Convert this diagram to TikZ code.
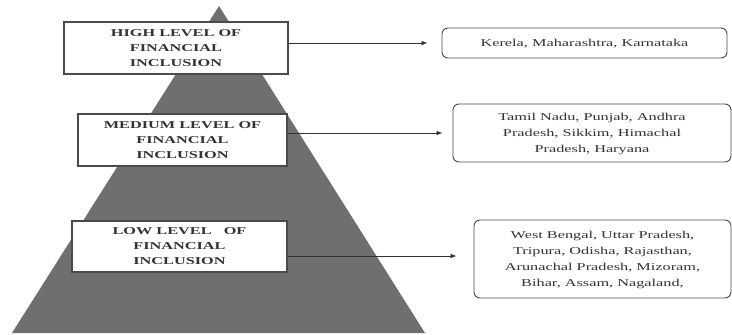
\documentclass[tikz,border=0pt]{standalone}
\usepackage{fontspec}
\usepackage{graphicx}
\setmainfont{Liberation Serif}
\usetikzlibrary{arrows.meta}
\definecolor{pyr}{HTML}{6E6F71}
\definecolor{edge}{HTML}{4A4A4A}
\newcommand{\widetext}[1]{\scalebox{1.55}[1]{\begin{tabular}{@{}c@{}}#1\end{tabular}}}
\tikzset{
  levelbox/.style={draw=edge, line width=1.1pt, fill=white, inner sep=0pt,
    align=center, font=\bfseries\fontsize{10.5}{15}\selectfont, text=black!80},
  statebox/.style={draw=edge, line width=0.9pt, rounded corners=6pt, fill=white, inner sep=0pt,
    align=center, font=\fontsize{10.5}{16}\selectfont, text=black!80},
  conn/.style={-{Latex[length=6pt,width=4.5pt]}, line width=0.7pt, draw=black!80}
}
\begin{document}
\begin{tikzpicture}[x=1pt,y=-1pt]
\useasboundingbox (0,0) rectangle (732,335);
\fill[pyr] (219,6) -- (425,333) -- (12,333) -- cycle;

\node[levelbox, minimum width=224pt, minimum height=52pt] (hi) at (176,48) {\widetext{HIGH LEVEL OF\\FINANCIAL\\INCLUSION}};
\node[levelbox, minimum width=209pt, minimum height=52pt] (me) at (182.5,140) {\widetext{MEDIUM LEVEL OF\\FINANCIAL\\INCLUSION}};
\node[levelbox, minimum width=215pt, minimum height=51pt] (lo) at (179.5,246.5) {\widetext{LOW LEVEL\ \ \ OF\\FINANCIAL\\INCLUSION}};

\node[statebox, minimum width=285pt, minimum height=30pt] (hr) at (584.5,43) {\widetext{Kerela, Maharashtra, Karnataka}};
\node[statebox, minimum width=278pt, minimum height=58pt] (mr) at (592,133) {\widetext{Tamil Nadu, Punjab, Andhra\\Pradesh, Sikkim, Himachal\\Pradesh, Haryana}};
\node[statebox, minimum width=257pt, minimum height=78pt] (lr) at (602.5,259) {\widetext{West Bengal, Uttar Pradesh,\\Tripura, Odisha, Rajasthan,\\Arunachal Pradesh, Mizoram,\\Bihar, Assam, Nagaland,}};

\draw[conn, shorten >=14pt] (hi.east |- hr.west) -- (hr.west);
\draw[conn, shorten >=10pt] (me.east |- mr.west) -- (mr.west);
\coordinate (lowy) at (0,256);
\draw[conn, shorten >=17pt] (lo.east |- lowy) -- (lr.west |- lowy);
\end{tikzpicture}
\end{document}
